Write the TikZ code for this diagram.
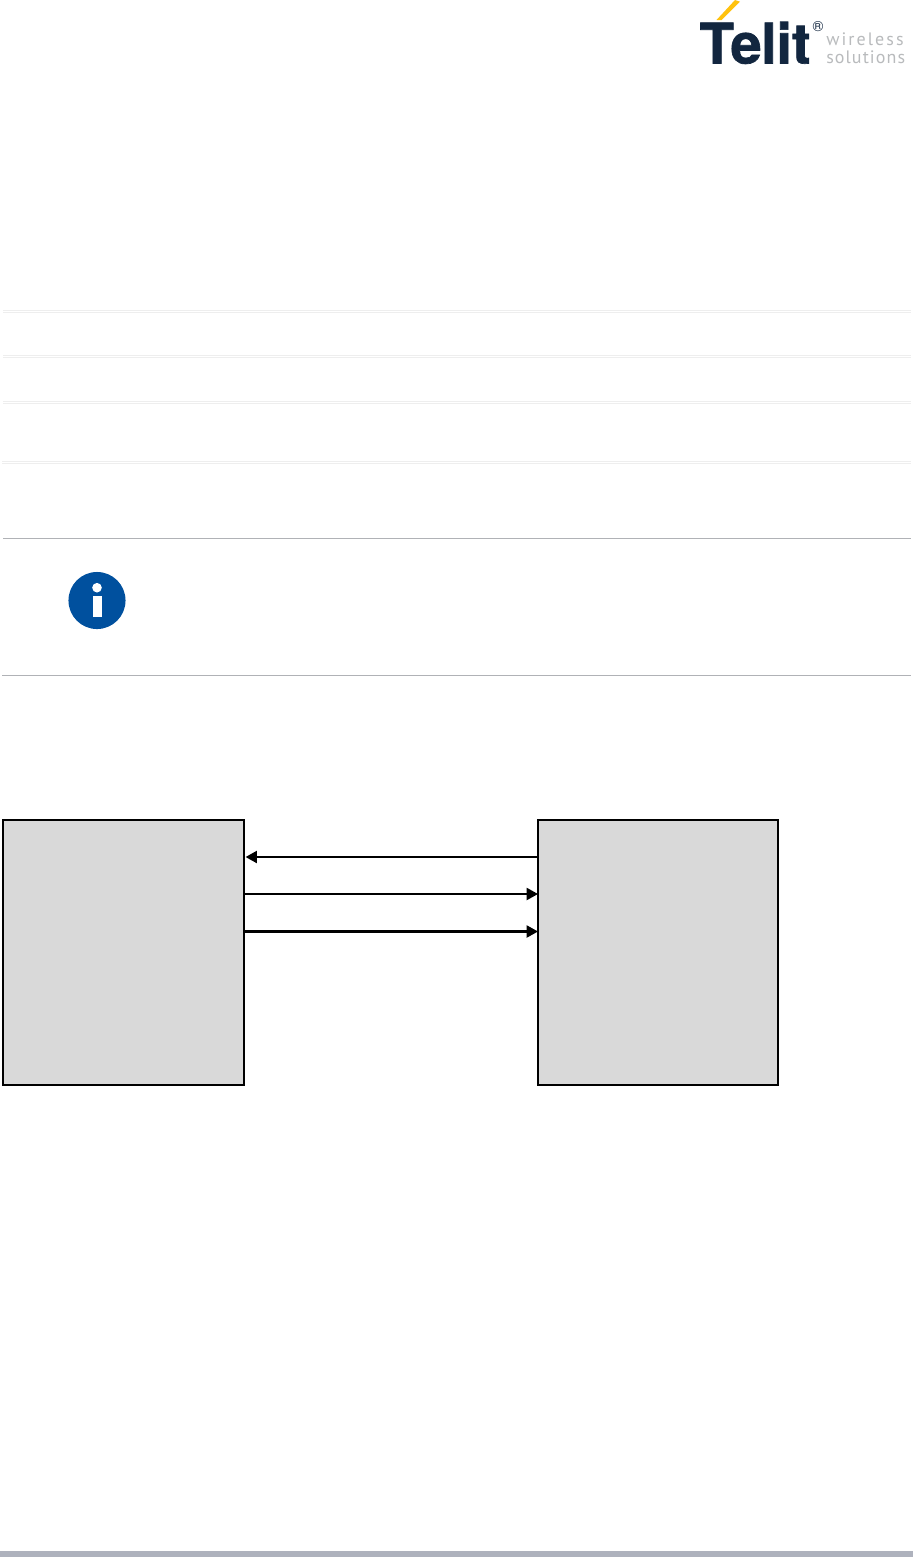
\documentclass[tikz,border=0pt]{standalone}
\usepackage{fontspec}
\usetikzlibrary{arrows.meta}
\setmainfont{TeX Gyre Heros}
\newfontfamily\telitfont[FakeBold=1.2]{TeX Gyre Heros Bold}
\newfontfamily\wirelessfont[LetterSpace=11.5]{PT Sans}
\newfontfamily\solutionsfont[LetterSpace=6]{PT Sans}
\definecolor{navy}{HTML}{12263F}
\definecolor{gold}{HTML}{FFC20E}
\definecolor{logogray}{HTML}{B9BBBD}
\definecolor{rulefaint}{HTML}{EEEEEE}
\definecolor{rulemid}{HTML}{B0B2B6}
\definecolor{infoblue}{HTML}{00509E}
\definecolor{boxgray}{HTML}{D9D9D9}
\definecolor{footbar}{HTML}{AEB2BD}
\tikzset{
  x=0.75pt,y=-0.75pt,
  faint/.style={draw=rulefaint,line width=0.75pt},
  midrule/.style={draw=rulemid,line width=0.75pt},
  block/.style={draw=black,fill=boxgray,line width=1.6pt,minimum height=199pt,inner sep=0pt,outer sep=0pt},
  link/.style={draw=black,line width=1.6pt,-{Triangle[length=8.5pt,width=9pt]}},
}
\begin{document}
\begin{tikzpicture}
\useasboundingbox[fill=white] (0,0) rectangle (913,1557);
% faint rules
\foreach \yy in {310.5,312.5,355.5,357.5,401,403.5}{\path[faint] (3,\yy) -- (911,\yy);}
\foreach \yy in {461.8,463.7}{\path[faint] (2,\yy) -- (911,\yy);}
% note rules
\path[midrule] (3,538.5) -- (911,538.5);
\path[midrule] (2,675.5) -- (911,675.5);
% info icon
\fill[infoblue] (97,600.5) circle[radius=21.4pt];
\fill[white] (97,587.7) circle[radius=3.6pt];
\fill[white] (92.7,596) rectangle (101.7,617.3);
% logo
\fill[gold] (716.5,20) -- (735,0) -- (740,1.7) -- (721.7,20) -- cycle;
\node[anchor=base west,inner sep=0pt,text=navy,font=\fontsize{42}{42}\selectfont\telitfont] (telit) at (699.5,63.5) {T\kern-2.6pt e\kern-0.4pt l\kern-0.2pt i\kern0pt t};
\node[anchor=center,inner sep=0pt,text=navy,font=\fontsize{11}{11}\selectfont] (reg) at (818,27) {®};
\node[anchor=base west,inner sep=0pt,text=logogray,font=\fontsize{13.5}{13.5}\selectfont\wirelessfont] (wl) at (826,45) {wireless};
\node[anchor=base west,inner sep=0pt,text=logogray,font=\fontsize{13.5}{13.5}\selectfont\solutionsfont] (sol) at (826,63) {solutions};
% diagram
\node[block,minimum width=180.75pt,anchor=north west] (left) at (3,820) {};
\node[block,minimum width=180pt,anchor=north west] (right) at (538,820) {};
\coordinate (y1) at (0,857);
\coordinate (y2) at (0,894);
\coordinate (y3) at (0,931.5);
\draw[link] (right.west |- y1) -- ([xshift=1.2pt]left.east |- y1);
\draw[link] (left.east |- y2) -- (right.west |- y2);
\draw[link] (left.east |- y3) -- (right.west |- y3);
% footer
\fill[footbar] (0,1551) rectangle (913,1557);
\end{tikzpicture}
\end{document}
